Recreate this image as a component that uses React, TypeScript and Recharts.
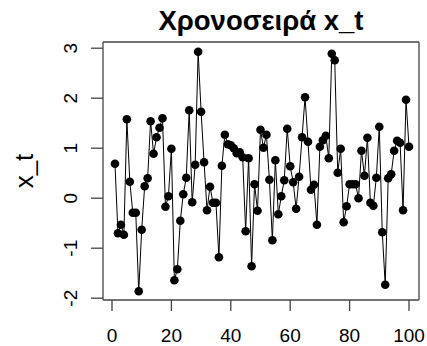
import React from 'react';
import { LineChart, Line, XAxis, YAxis } from 'recharts';

const title = 'Χρονοσειρά x_t';
const yLabel = 'x_t';

const xValues: number[] = [
  0.69, -0.70, -0.53, -0.73, 1.58, 0.33, -0.29, -0.29, -1.86, -0.63,
  0.24, 0.40, 1.54, 0.89, 1.22, 1.41, 1.60, -0.17, 0.04, 0.99,
  -1.64, -1.42, -0.45, 0.08, 0.41, 1.76, -0.08, 0.67, 2.93, 1.73,
  0.72, -0.24, 0.23, -0.09, -0.09, -1.18, 0.65, 1.27, 1.08, 1.06,
  1.00, 0.90, 0.92, 0.82, -0.66, 0.80, -1.36, 0.28, -0.25, 1.37,
  1.01, 1.27, 0.37, -0.84, 0.76, -0.32, 0.04, 0.36, 1.39, 0.64,
  0.32, -0.21, 0.43, 1.22, 2.02, 1.13, 0.17, 0.27, -0.53, 1.03,
  1.16, 1.25, 0.80, 2.89, 2.76, 0.51, 0.99, -0.48, -0.16, 0.28,
  0.28, 0.28, 0.00, 0.95, 0.45, 1.21, -0.09, -0.15, 0.41, 1.43,
  -0.68, -1.73, 0.40, 0.48, 0.95, 1.15, 1.11, -0.24, 1.97, 1.03,
];

const xTicks = [0, 20, 40, 60, 80, 100];
const yTicks = [-2, -1, 0, 1, 2, 3];

const data = xValues.map((v, i) => ({ t: i + 1, x: v }));

const FONT = '"Liberation Sans", Arial, Helvetica, sans-serif';
const AXIS = '#444';

const XTick = (props: any) => {
  const { x, payload } = props;
  return (
    <text x={x} y={341.5} textAnchor="middle" fontSize={19} fontFamily={FONT} fill="#000">
      {payload.value}
    </text>
  );
};

const YTick = (props: any) => {
  const { y, payload } = props;
  const bx = 77;
  return (
    <text
      x={bx}
      y={y}
      textAnchor="middle"
      fontSize={19}
      fontFamily={FONT}
      fill="#000"
      transform={`rotate(-90 ${bx} ${y})`}
    >
      {payload.value}
    </text>
  );
};

export default function App() {
  return (
    <div style={{ position: 'absolute', left: 0, top: 0, width: 427, height: 346, background: '#fff' }}>
      <div style={{ position: 'absolute', left: 0, top: 0 }}>
        <LineChart width={427} height={346} data={data} margin={{ top: 0, right: 0, bottom: 0, left: 0 }}>
          <XAxis
            xAxisId="b"
            dataKey="t"
            type="number"
            domain={[-3.03, 103.37]}
            allowDataOverflow
            ticks={xTicks}
            height={46}
            tickSize={11}
            tickLine={{ stroke: AXIS, strokeWidth: 1.3 }}
            axisLine={{ stroke: AXIS, strokeWidth: 1.3 }}
            tick={<XTick />}
          />
          <XAxis
            xAxisId="t"
            orientation="top"
            dataKey="t"
            type="number"
            domain={[-3.03, 103.37]}
            allowDataOverflow
            height={42}
            tick={false}
            tickLine={false}
            axisLine={{ stroke: AXIS, strokeWidth: 1.3 }}
          />
          <YAxis
            yAxisId="l"
            type="number"
            domain={[-2.036, 3.124]}
            allowDataOverflow
            ticks={yTicks}
            width={103}
            tickSize={12}
            tickLine={{ stroke: AXIS, strokeWidth: 1.3 }}
            axisLine={{ stroke: AXIS, strokeWidth: 1.3 }}
            tick={<YTick />}
          />
          <YAxis
            yAxisId="r"
            orientation="right"
            type="number"
            domain={[-2.036, 3.124]}
            allowDataOverflow
            width={8}
            tick={false}
            tickLine={false}
            axisLine={{ stroke: AXIS, strokeWidth: 1.3 }}
          />
          <Line
            xAxisId="b"
            yAxisId="l"
            dataKey="x"
            stroke="#000"
            strokeWidth={1}
            dot={{ r: 4.3, fill: '#000', stroke: 'none' }}
            activeDot={false}
            isAnimationActive={false}
          />
        </LineChart>
      </div>
      <svg
        width={427}
        height={346}
        style={{ position: 'absolute', left: 0, top: 0, pointerEvents: 'none' }}
      >
        <text x={261} y={29.5} textAnchor="middle" fontSize={27.5} fontWeight="bold" fontFamily={FONT} fill="#000">
          {title}
        </text>
        <text
          x={33}
          y={171}
          textAnchor="middle"
          fontSize={26}
          fontFamily={FONT}
          fill="#000"
          transform="rotate(-90 33 171)"
        >
          {yLabel}
        </text>
      </svg>
    </div>
  );
}
